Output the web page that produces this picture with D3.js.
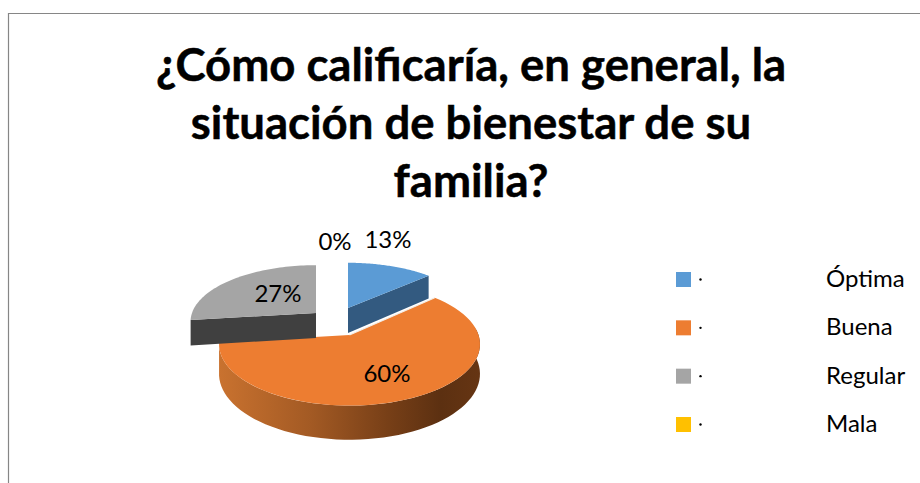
<!DOCTYPE html>
<html>
<head>
<meta charset="utf-8">
<script src="https://cdn.jsdelivr.net/npm/d3@7"></script>
<style>
  html, body { margin: 0; padding: 0; background: #fff; }
  text { font-family: Lato, "Open Sans", sans-serif; fill: #000; }
</style>
</head>
<body>
<div id="chart"></div>
<script>
const categories = ["Óptima", "Buena", "Regular", "Mala"];
const values = [13, 60, 27, 0];
const colors = ["#5b9bd5", "#ed7d31", "#a5a5a5", "#ffc000"];
const sideColors = ["#335a80", "#8a4a1c", "#404040", "#997300"];
const titleLines = ["¿Cómo calificaría, en general, la", "situación de bienestar de su", "familia?"];

const width = 920, height = 483;
const persp = 0.15; // how much bigger the near side of the disc gets

// every slice is pulled out a bit so it has its own apex and radius
const sliceGeom = {
  "Óptima": { x: 348, y: 308, rx: 122, ry: 52, depth: 25 },
  "Buena": { x: 349.5, y: 335, rx: 129, ry: 60, depth: 29 },
  "Regular": { x: 316, y: 313, rx: 124, ry: 55, depth: 25 },
  "Mala": { x: 334, y: 300, rx: 122, ry: 52, depth: 25 }
};
const labelPos = {
  "Óptima": [388, 239],
  "Buena": [387, 373],
  "Regular": [278, 293],
  "Mala": [335, 241]
};

const svg = d3.select("#chart").append("svg")
  .attr("width", width)
  .attr("height", height)
  .style("display", "block");

// frame, only top and left show in the crop
svg.append("path")
  .attr("d", "M8.5,483V13.5H920")
  .attr("fill", "none")
  .attr("stroke", "#868686")
  .attr("stroke-width", 1.2);

const grad = svg.append("defs").append("linearGradient")
  .attr("id", "rim")
  .attr("gradientUnits", "userSpaceOnUse")
  .attr("x1", 219).attr("x2", 480)
  .attr("y1", 0).attr("y2", 0);
[[0, "#c9722f"], [0.35, "#a35a24"], [0.65, "#773f17"], [0.85, "#5c3011"], [1, "#663513"]].forEach(s => {
  grad.append("stop").attr("offset", s[0]).attr("stop-color", s[1]);
});

const color = d3.scaleOrdinal().domain(categories).range(colors);
const sideColor = d3.scaleOrdinal().domain(categories).range(sideColors);

const pie = d3.pie().sort(null).value((d, i) => values[i]);
const slices = pie(categories);

// angle on the disc -> screen point
function project(g, a, drop) {
  const u = Math.sin(a), v = -Math.cos(a);
  const s = 1 / (1 - persp * v);
  return [g.x + g.rx * u * s, g.y + g.ry * v * s + (drop || 0) * s];
}

function rimPoints(g, a0, a1, drop) {
  return d3.range(0, 61).map(i => project(g, a0 + (a1 - a0) * i / 60, drop));
}

const line = d3.line();
const chart = svg.append("g").attr("class", "pie");

function drawTop(d, g) {
  chart.append("path")
    .attr("d", line([[g.x, g.y]].concat(rimPoints(g, d.startAngle, d.endAngle))) + "Z")
    .attr("fill", color(d.data));
}

function drawRadialSide(d, g, a) {
  const p = project(g, a), q = project(g, a, g.depth);
  chart.append("path")
    .attr("d", line([[g.x, g.y], p, q, [g.x, g.y + g.depth]]) + "Z")
    .attr("fill", sideColor(d.data));
}

const blue = slices[0], orange = slices[1], gray = slices[2];

drawRadialSide(blue, sliceGeom[blue.data], blue.endAngle);
drawTop(blue, sliceGeom[blue.data]);

// orange: outer rim goes first, only the near half of it is seen
const og = sliceGeom[orange.data];
const rimStart = Math.PI / 2 - 0.12;
chart.append("path")
  .attr("d", line(rimPoints(og, rimStart, orange.endAngle)
    .concat(rimPoints(og, rimStart, orange.endAngle, og.depth).reverse())) + "Z")
  .attr("fill", "url(#rim)");
drawTop(orange, og);

// thin light edge between the orange top and the blue side
chart.append("path")
  .attr("d", line([[og.x, og.y], project(og, orange.startAngle)]))
  .attr("fill", "none")
  .attr("stroke", "#f3ede6")
  .attr("stroke-width", 1.2);

drawRadialSide(gray, sliceGeom[gray.data], gray.startAngle);
drawTop(gray, sliceGeom[gray.data]);

// data labels
svg.append("g").selectAll("text")
  .data(slices)
  .join("text")
  .attr("x", d => labelPos[d.data][0])
  .attr("y", d => labelPos[d.data][1] + 8.5)
  .attr("text-anchor", "middle")
  .attr("font-size", 24)
  .text(d => d.value + "%");

// title
svg.append("g").selectAll("text")
  .data(titleLines)
  .join("text")
  .attr("x", 471)
  .attr("y", (d, i) => 81 + i * 58)
  .attr("text-anchor", "middle")
  .attr("font-size", 45.5)
  .attr("font-weight", 700)
  .attr("stroke", "#000")
  .attr("stroke-width", 0.5)
  .text(d => d);

// legend
const legendY = d3.scalePoint().domain(categories).range([279.5, 424.5]);
const legend = svg.append("g").selectAll("g")
  .data(categories)
  .join("g")
  .attr("transform", d => "translate(0," + legendY(d) + ")");

legend.append("rect")
  .attr("x", 676).attr("y", -7.5)
  .attr("width", 15).attr("height", 15)
  .attr("fill", d => color(d));

legend.append("circle")
  .attr("cx", 700.5).attr("cy", 0)
  .attr("r", 1.2)
  .attr("fill", "#000");

legend.append("text")
  .attr("x", 826).attr("y", 7.5)
  .attr("font-size", 24)
  .text(d => d);
</script>
</body>
</html>
